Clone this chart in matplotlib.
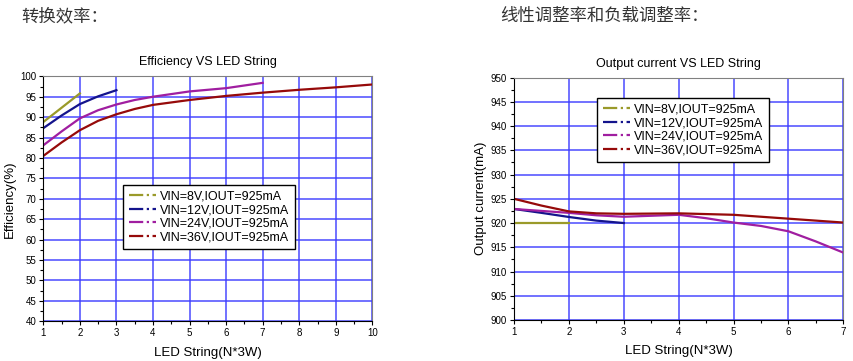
import matplotlib
matplotlib.use("Agg")
import matplotlib.pyplot as plt
from matplotlib.lines import Line2D
from matplotlib.ticker import MultipleLocator

plt.rcParams['font.family'] = ['Liberation Sans', 'DejaVu Sans']

# Efficiency data
eff_8v_x = [1, 2]
eff_8v = [88.8, 95.8]
eff_12v_x = [1, 1.5, 2, 2.5, 3]
eff_12v = [87.3, 90.4, 93.2, 95.1, 96.6]
eff_24v_x = [1, 1.5, 2, 2.5, 3, 3.5, 4, 5, 6, 7]
eff_24v = [83.1, 86.5, 89.7, 91.7, 93.1, 94.2, 95.0, 96.3, 97.1, 98.4]
eff_36v_x = [1, 1.5, 2, 2.5, 3, 3.5, 4, 5, 6, 7, 8, 9, 10]
eff_36v = [80.5, 83.8, 86.8, 89.1, 90.7, 92.0, 93.0, 94.2, 95.2, 96.0, 96.7, 97.3, 98.0]

# Output current data
cur_8v_x = [1, 2]
cur_8v = [920.0, 920.0]
cur_12v_x = [1, 1.5, 2, 2.5, 3]
cur_12v = [922.9, 922.1, 921.25, 920.5, 920.0]
cur_24v_x = [1, 1.5, 2, 2.5, 3, 3.5, 4, 4.5, 5, 5.5, 6, 6.5, 7]
cur_24v = [922.9, 922.5, 922.1, 921.6, 921.3, 921.5, 921.7, 921.0, 920.1, 919.4, 918.3, 916.2, 913.9]
cur_36v_x = [1, 1.5, 2, 2.5, 3, 4, 5, 6, 7]
cur_36v = [925.0, 923.6, 922.4, 922.0, 921.9, 922.0, 921.7, 920.9, 920.1]

labels = ["VIN=8V,IOUT=925mA", "VIN=12V,IOUT=925mA",
          "VIN=24V,IOUT=925mA", "VIN=36V,IOUT=925mA"]
colors = ["#9a9a2a", "#14148c", "#a01ea0", "#960a0a"]

fig = plt.figure(figsize=(8.54, 3.61), dpi=100)
fig.text(0.025, 0.955, "转换效率：", family=['Noto Sans CJK SC', 'DejaVu Sans'],
         fontsize=12.5, color="#333333", va="center")
fig.text(0.586, 0.955, "线性调整率和负载调整率：", family=['Noto Sans CJK SC', 'DejaVu Sans'],
         fontsize=12.5, color="#333333", va="center")


def style_axes(ax, title, ylabel):
    ax.set_title(title, fontsize=9, pad=8)
    ax.set_xlabel("LED String(N*3W)", fontsize=9.5, labelpad=6)
    ax.set_ylabel(ylabel, fontsize=9.5, labelpad=3)
    ax.xaxis.set_major_locator(MultipleLocator(1))
    ax.xaxis.set_minor_locator(MultipleLocator(0.5))
    ax.yaxis.set_major_locator(MultipleLocator(5))
    ax.yaxis.set_minor_locator(MultipleLocator(2.5))
    ax.tick_params(which="major", labelsize=7, length=3, width=0.8, pad=2)
    ax.tick_params(which="minor", length=2, width=0.8)
    ax.grid(True, which="major", color="#3c3cff", linewidth=1.2, alpha=0.85)
    ax.set_axisbelow(True)
    for s in ["top", "right"]:
        ax.spines[s].set_color("#808080")
    for s in ["left", "bottom"]:
        ax.spines[s].set_color("black")


def add_legend(ax, anchor):
    handles = [Line2D([0], [0], color=c, linestyle="-.", linewidth=1.6) for c in colors]
    leg = ax.legend(handles, labels, loc="upper left", bbox_to_anchor=anchor,
                    fontsize=9, frameon=True, fancybox=False, framealpha=1,
                    edgecolor="black", handlelength=2.2, labelspacing=0.12,
                    borderpad=0.45, handletextpad=0.3, borderaxespad=0)
    leg.get_frame().set_linewidth(1.0)


ax1 = fig.add_axes([0.0507, 0.110, 0.3853, 0.6786])
ax1.plot(eff_8v_x, eff_8v, color=colors[0], lw=1.6)
ax1.plot(eff_12v_x, eff_12v, color=colors[1], lw=1.6)
ax1.plot(eff_24v_x, eff_24v, color=colors[2], lw=1.6)
ax1.plot(eff_36v_x, eff_36v, color=colors[3], lw=1.6)
ax1.set_xlim(1, 10)
ax1.set_ylim(40, 100)
style_axes(ax1, "Efficiency VS LED String", "Efficiency(%)")
add_legend(ax1, (0.242, 0.556))

ax2 = fig.add_axes([0.6019, 0.1136, 0.3856, 0.6714])
ax2.plot(cur_8v_x, cur_8v, color=colors[0], lw=1.6)
ax2.plot(cur_12v_x, cur_12v, color=colors[1], lw=1.6)
ax2.plot(cur_24v_x, cur_24v, color=colors[2], lw=1.6)
ax2.plot(cur_36v_x, cur_36v, color=colors[3], lw=1.6)
ax2.set_xlim(1, 7)
ax2.set_ylim(900, 950)
style_axes(ax2, "Output current VS LED String", "Output current(mA)")
add_legend(ax2, (0.252, 0.916))

fig.savefig("out.png", dpi=100)
